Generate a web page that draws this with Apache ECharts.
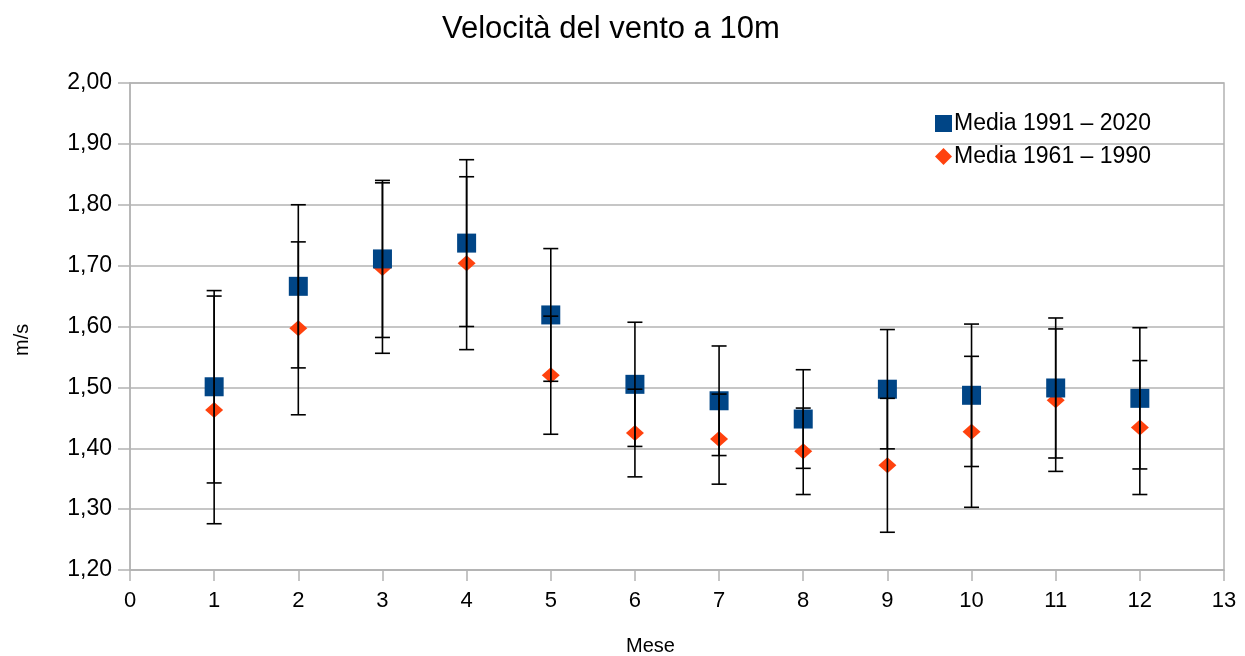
<!DOCTYPE html>
<html>
<head>
<meta charset="utf-8">
<title>Velocità del vento a 10m</title>
<script src="https://cdn.jsdelivr.net/npm/echarts@6/dist/echarts.min.js"></script>
<style>
  html, body { margin: 0; padding: 0; background: #ffffff; }
  #chart { width: 1245px; height: 656px; }
</style>
</head>
<body>
<div id="chart"></div>
<script>
// Mesi (1..12)
const months = [1, 2, 3, 4, 5, 6, 7, 8, 9, 10, 11, 12];

// Media 1991 – 2020: velocità media (m/s) e deviazione standard
const mean9120 = [1.501, 1.666, 1.711, 1.737, 1.619, 1.505, 1.478, 1.448, 1.497, 1.487, 1.499, 1.482];
const err9120  = [0.158, 0.134, 0.129, 0.137, 0.109, 0.102, 0.090, 0.081, 0.098, 0.117, 0.115, 0.116];

// Media 1961 – 1990: velocità media (m/s) e deviazione standard
const mean6190 = [1.463, 1.597, 1.696, 1.704, 1.520, 1.425, 1.415, 1.395, 1.372, 1.427, 1.479, 1.434];
const err6190  = [0.187, 0.142, 0.140, 0.142, 0.097, 0.072, 0.074, 0.071, 0.110, 0.124, 0.117, 0.110];

const seriesNames = ['Media 1991 \u2013 2020', 'Media 1961 \u2013 1990'];
const FONT = '"Liberation Sans", Arial, sans-serif';

function points(means) {
  return months.map((m, i) => [m, means[i]]);
}
function errorRanges(means, errs) {
  return months.map((m, i) => [m, means[i] - errs[i], means[i] + errs[i]]);
}

// Vertical error bar with caps at both ends
function renderErrorBar(params, api) {
  const x = api.value(0);
  const lo = api.coord([x, api.value(1)]);
  const hi = api.coord([x, api.value(2)]);
  const half = 7.5;
  const style = { stroke: '#000000', lineWidth: 1.6 };
  return {
    type: 'group',
    children: [
      { type: 'line', shape: { x1: hi[0], y1: hi[1], x2: lo[0], y2: lo[1] }, style: style },
      { type: 'line', shape: { x1: hi[0] - half, y1: hi[1], x2: hi[0] + half, y2: hi[1] }, style: style },
      { type: 'line', shape: { x1: lo[0] - half, y1: lo[1], x2: lo[0] + half, y2: lo[1] }, style: style }
    ]
  };
}

const chart = echarts.init(document.getElementById('chart'), null, { renderer: 'canvas' });

chart.setOption({
  backgroundColor: '#ffffff',
  animation: false,
  textStyle: { fontFamily: FONT, color: '#000000' },
  title: {
    text: 'Velocit\u00e0 del vento a 10m',
    left: 437,
    top: 9,
    textStyle: { fontFamily: FONT, fontSize: 31, fontWeight: 'normal', color: '#000000' }
  },
  legend: {
    data: seriesNames,
    orient: 'vertical',
    left: 930,
    top: 107,
    itemWidth: 17,
    itemHeight: 17,
    itemGap: 10,
    textStyle: { fontFamily: FONT, fontSize: 23, color: '#000000', padding: [0, 0, 0, -3] }
  },
  // Axis titles placed as free text
  graphic: [
    {
      type: 'text',
      left: 626,
      top: 636,
      style: { text: 'Mese', font: '20px "Liberation Sans", Arial, sans-serif', fill: '#000000' }
    },
    {
      type: 'text',
      x: 12,
      y: 356,
      rotation: Math.PI / 2,
      style: { text: 'm/s', font: '20px "Liberation Sans", Arial, sans-serif', fill: '#000000' }
    }
  ],
  grid: {
    left: 130,
    right: 21,
    top: 83,
    bottom: 86,
    outerBoundsMode: 'none',
    containLabel: false,
    show: true,
    borderColor: '#b3b3b3',
    borderWidth: 1.5
  },
  xAxis: {
    type: 'value',
    min: 0,
    max: 13,
    interval: 1,
    axisLine: { show: true, lineStyle: { color: '#b3b3b3', width: 1.5 } },
    axisTick: { show: true, length: 11, lineStyle: { color: '#b3b3b3', width: 1.5 } },
    axisLabel: { fontFamily: FONT, fontSize: 22, color: '#000000', margin: 20 },
    splitLine: { show: false }
  },
  yAxis: {
    type: 'value',
    min: 1.2,
    max: 2.0,
    interval: 0.1,
    axisLine: { show: true, lineStyle: { color: '#b3b3b3', width: 1.5 } },
    axisTick: { show: true, length: 12, lineStyle: { color: '#b3b3b3', width: 1.5 } },
    axisLabel: {
      fontFamily: FONT, fontSize: 23, color: '#000000', margin: 18,
      formatter: v => v.toFixed(2).replace('.', ',')
    },
    splitLine: { show: true, lineStyle: { color: '#b3b3b3', width: 1.5 } }
  },
  series: [
    {
      name: seriesNames[0],
      type: 'scatter',
      symbol: 'rect',
      symbolSize: 19,
      itemStyle: { color: '#004586', opacity: 1 },
      data: points(mean9120),
      z: 3
    },
    {
      name: seriesNames[1],
      type: 'scatter',
      symbol: 'diamond',
      symbolSize: [18, 16],
      itemStyle: { color: '#ff420e', opacity: 1 },
      data: points(mean6190),
      z: 2
    },
    {
      name: 'err9120',
      type: 'custom',
      renderItem: renderErrorBar,
      data: errorRanges(mean9120, err9120),
      encode: { x: 0, y: [1, 2] },
      z: 5,
      silent: true
    },
    {
      name: 'err6190',
      type: 'custom',
      renderItem: renderErrorBar,
      data: errorRanges(mean6190, err6190),
      encode: { x: 0, y: [1, 2] },
      z: 5,
      silent: true
    }
  ]
});
</script>
</body>
</html>
